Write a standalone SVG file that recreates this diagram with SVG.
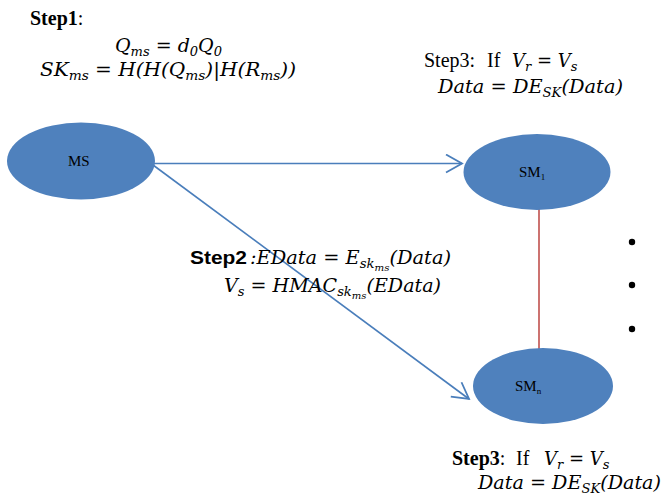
<svg xmlns="http://www.w3.org/2000/svg" width="664" height="495" viewBox="0 0 664 495">
<defs>
<style>
.node{fill:#4F81BD;}
.lbl{font-family:"Liberation Serif",serif;font-size:15px;fill:#000;}
.sub{font-size:9px;}
.t{font-family:"Liberation Serif",serif;font-size:20px;fill:#000;}
.b{font-weight:bold;}
.m{font-family:"DejaVu Serif",serif;font-style:italic;font-size:19px;fill:#000;}
.ms{font-size:13px;}
.mss{font-size:10px;}
.sans{font-family:"Liberation Sans",sans-serif;font-weight:bold;font-size:19px;fill:#000;}
.conn{stroke:#4A7EBB;stroke-width:1.6;fill:none;}
</style>
<marker id="arr" viewBox="0 0 20 20" refX="18" refY="10" markerWidth="20" markerHeight="20" markerUnits="userSpaceOnUse" orient="auto">
<path d="M2,1 L18,10 L2,19" fill="none" stroke="#4A7EBB" stroke-width="1.8"/>
</marker>
</defs>
<rect width="664" height="495" fill="#fff"/>
<g id="connectors">
<line class="conn" x1="154" y1="163.5" x2="462" y2="163.5" marker-end="url(#arr)"/>
<line class="conn" x1="153" y1="165" x2="469" y2="399" marker-end="url(#arr)"/>
<line x1="539" y1="208" x2="539" y2="350" stroke="#C0504D" stroke-width="1.6"/>
</g>
<g id="MS">
<ellipse class="node" cx="81" cy="161" rx="74" ry="38.5"/>
<text class="lbl" x="68" y="166">MS</text>
</g>
<g id="SM1">
<ellipse class="node" cx="537" cy="172" rx="73.5" ry="38"/>
<text class="lbl" x="519" y="177">SM<tspan class="sub" dy="3">1</tspan></text>
</g>
<g id="SMn">
<ellipse class="node" cx="543" cy="386" rx="70" ry="38"/>
<text class="lbl" x="515" y="391">SM<tspan class="sub" dy="3">n</tspan></text>
</g>
<g id="dots">
<circle cx="632" cy="242" r="3.2"/>
<circle cx="632" cy="285" r="3.2"/>
<circle cx="632" cy="329" r="3.2"/>
</g>
<g id="step1">
<text class="t" x="30" y="25"><tspan class="b">Step1</tspan>:</text>
<text class="m" x="115" y="52" textLength="107" lengthAdjust="spacingAndGlyphs">Q<tspan class="ms" dy="4">ms</tspan><tspan dy="-4"> = d</tspan><tspan class="ms" dy="4">0</tspan><tspan dy="-4">Q</tspan><tspan class="ms" dy="4">0</tspan></text>
<text class="m" x="40" y="76" textLength="256" lengthAdjust="spacingAndGlyphs">SK<tspan class="ms" dy="4">ms</tspan><tspan dy="-4">  = H(H(Q</tspan><tspan class="ms" dy="4">ms</tspan><tspan dy="-4">)|H(R</tspan><tspan class="ms" dy="4">ms</tspan><tspan dy="-4">))</tspan></text>
</g>
<g id="step3top">
<text class="t" x="424" y="67">Step3:</text>
<text class="t" x="487" y="67">If</text>
<text class="m" x="512" y="67" style="font-size:18px">V<tspan class="ms" dy="4">r</tspan><tspan dy="-4"> = V</tspan><tspan class="ms" dy="4">s</tspan></text>
<text class="m" x="438" y="93" textLength="185" lengthAdjust="spacingAndGlyphs">Data = DE<tspan class="ms" dy="4">SK</tspan><tspan dy="-4">(Data)</tspan></text>
</g>
<g id="step2">
<text class="sans" x="190" y="264" textLength="57" lengthAdjust="spacingAndGlyphs">Step2</text>
<text class="m" x="250" y="264" textLength="201" lengthAdjust="spacingAndGlyphs">:EData = E<tspan class="ms" dy="4">sk</tspan><tspan class="mss" dy="3">ms</tspan><tspan dy="-7">(Data)</tspan></text>
<text class="m" x="224" y="292" textLength="217" lengthAdjust="spacingAndGlyphs">V<tspan class="ms" dy="4">s</tspan><tspan dy="-4"> = HMAC</tspan><tspan class="ms" dy="4">sk</tspan><tspan class="mss" dy="3">ms</tspan><tspan dy="-7">(EData)</tspan></text>
</g>
<g id="step3bottom">
<text class="t" x="452" y="465"><tspan class="b">Step3</tspan>:</text>
<text class="t" x="516" y="465">If</text>
<text class="m" x="544" y="465" style="font-size:18px">V<tspan class="ms" dy="4">r</tspan><tspan dy="-4"> = V</tspan><tspan class="ms" dy="4">s</tspan></text>
<text class="m" x="478" y="489" textLength="183" lengthAdjust="spacingAndGlyphs">Data = DE<tspan class="ms" dy="4">SK</tspan><tspan dy="-4">(Data)</tspan></text>
</g>
</svg>
